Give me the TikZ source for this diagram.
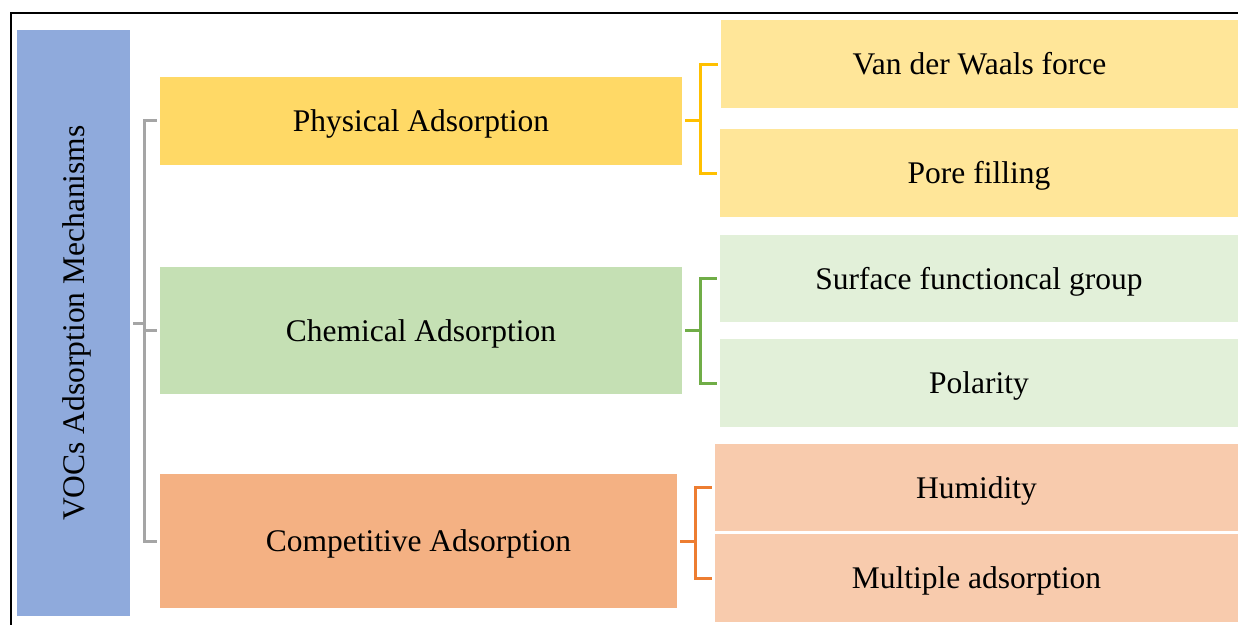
\documentclass[tikz,border=0pt]{standalone}
\usepackage{fontspec}
\setmainfont{Liberation Serif}
\definecolor{cblue}{HTML}{8FAADC}
\definecolor{cphys}{HTML}{FFD966}
\definecolor{cphysl}{HTML}{FFE699}
\definecolor{cchem}{HTML}{C5E0B4}
\definecolor{ccheml}{HTML}{E2F0D9}
\definecolor{ccomp}{HTML}{F4B183}
\definecolor{ccompl}{HTML}{F8CBAD}
\definecolor{lyel}{HTML}{FFC000}
\definecolor{lgrn}{HTML}{70AD47}
\definecolor{lorg}{HTML}{ED7D31}
\definecolor{lgry}{HTML}{A5A5A5}
\tikzset{
  txt/.style={inner sep=0pt, text height=21pt, text depth=0pt, font=\fontsize{31.5pt}{36pt}\selectfont},
  box/.style={txt, draw=none, align=center},
  brk/.style={line width=3pt},
}
\begin{document}
\begin{tikzpicture}[x=1pt,y=-1pt]
\useasboundingbox (0,0) rectangle (1238,624);
% frame
\draw[line width=2pt] (11,640) -- (11,12.5) -- (1250,12.5);
% boxes
\node[box, fill=cblue, minimum width=113pt, minimum height=586pt] (blue) at (73.5,323) {};
\node[txt, rotate=90] (bluetext) at (blue.center) {VOCs Adsorption Mechanisms};
\node[box, fill=cphys, minimum width=522pt, minimum height=88pt] (phys) at (421,120.5) {Physical Adsorption};
\node[box, fill=cchem, minimum width=522pt, minimum height=127pt] (chem) at (421,330.5) {Chemical Adsorption};
\node[box, fill=ccomp, minimum width=517pt, minimum height=134pt] (comp) at (418.5,541) {Competitive Adsorption};
\node[box, fill=cphysl, minimum width=517pt, minimum height=88pt] (vdw) at (979.5,64) {Van der Waals force};
\node[box, fill=cphysl, minimum width=518pt, minimum height=88pt] (pore) at (979,173) {Pore filling};
\node[box, fill=ccheml, minimum width=518pt, minimum height=87pt] (surf) at (979,278.5) {Surface functioncal group};
\node[box, fill=ccheml, minimum width=518pt, minimum height=88pt] (pol) at (979,383) {Polarity};
\node[box, fill=ccompl, minimum width=523pt, minimum height=87pt] (hum) at (976.5,487.5) {Humidity};
\node[box, fill=ccompl, minimum width=523pt, minimum height=88pt] (mult) at (976.5,578) {Multiple adsorption};
% gray bracket
\draw[brk, lgry] ([xshift=-3pt]phys.west) -- ++(-12,0) |- ([xshift=-3pt]comp.west);
\draw[brk, lgry] ([xshift=-3pt]chem.west) -- ++(-12,0);
\draw[brk, lgry] ([xshift=3pt]blue.east) -- ++(12,0);
% yellow bracket
\draw[brk, lyel] ([xshift=-3pt]vdw.west) -- ++(-17,0) |- ([xshift=-3pt]pore.west);
\draw[brk, lyel] ([xshift=3pt]phys.east) -- ++(16,0);
% green bracket
\draw[brk, lgrn] ([xshift=-3pt]surf.west) -- ++(-16,0) |- ([xshift=-3pt]pol.west);
\draw[brk, lgrn] ([xshift=3pt]chem.east) -- ++(16,0);
% orange bracket
\draw[brk, lorg] ([xshift=-3pt]hum.west) -- ++(-16,0) |- ([xshift=-3pt]mult.west);
\draw[brk, lorg] ([xshift=3pt]comp.east) -- ++(16,0);
\end{tikzpicture}
\end{document}
